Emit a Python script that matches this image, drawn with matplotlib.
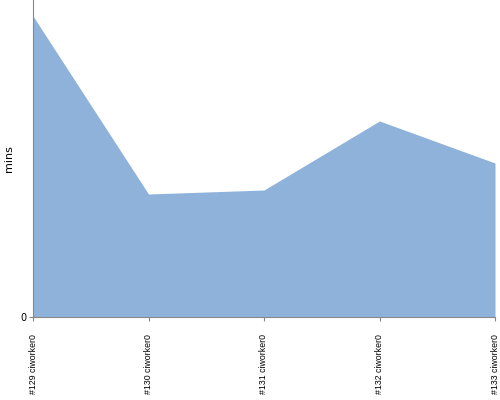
import matplotlib
matplotlib.use("Agg")
import matplotlib.pyplot as plt

# build labels and durations (mins)
builds = ["#129 ciworker0", "#130 ciworker0", "#131 ciworker0",
          "#132 ciworker0", "#133 ciworker0"]
mins = [30.1, 12.3, 12.7, 19.6, 15.4]

FILL = "#8fb2db"
AXIS = "#888888"

fig = plt.figure(figsize=(5, 4), dpi=100)
ax = fig.add_axes([0.066, 0.2075, 0.924, 0.7925])

x = list(range(len(builds)))
ax.fill_between(x, mins, 0, color=FILL, lw=0)

ax.set_xlim(0, len(builds) - 1)
ax.set_ylim(0, 31.7)
ax.set_yticks([0])
ax.set_yticklabels(["0"], fontsize=7)
ax.set_xticks(x)
ax.set_xticklabels(builds, rotation=90, fontsize=6.3,
                   family="Liberation Sans")
ax.tick_params(axis="both", length=3, color=AXIS, pad=2)
ax.tick_params(axis="x", pad=9)
ax.set_ylabel("mins", fontsize=8, labelpad=4)

for s in ["top", "right"]:
    ax.spines[s].set_visible(False)
for s in ["left", "bottom"]:
    ax.spines[s].set_color(AXIS)
    ax.spines[s].set_linewidth(0.8)

fig.savefig("out.png", dpi=100)
